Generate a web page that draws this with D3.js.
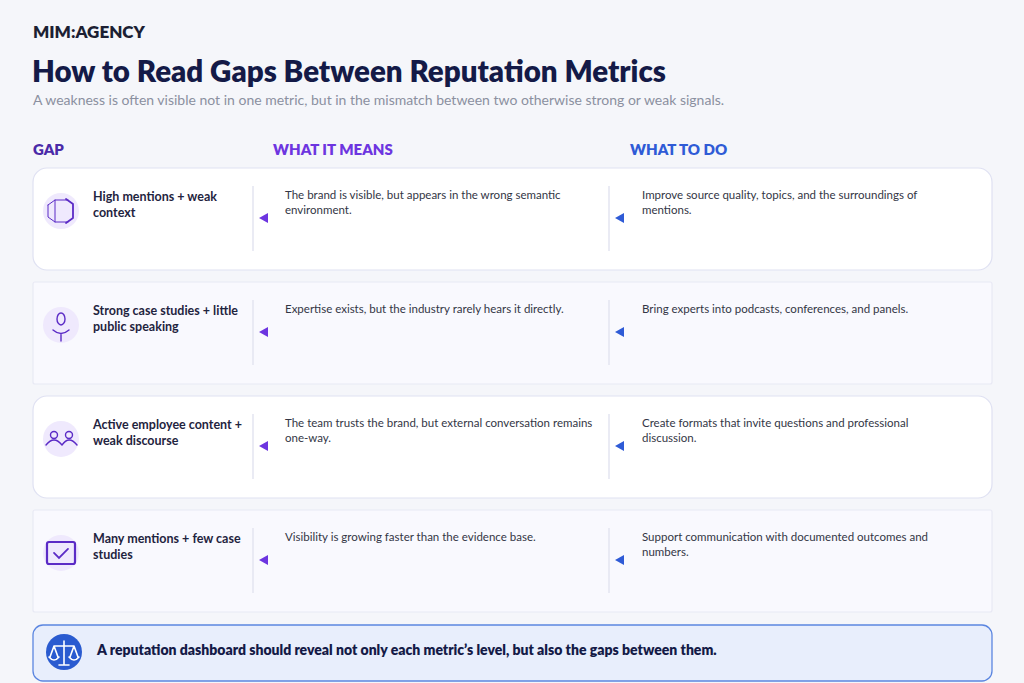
<!DOCTYPE html>
<html><head><meta charset="utf-8">
<script src="https://cdn.jsdelivr.net/npm/d3@7"></script>
<style>body{margin:0;background:#f5f6fa}text{font-family:Lato,"Open Sans",sans-serif}</style>
</head><body><svg id="chart"></svg>
<script>
// Data
var gaps = [["High mentions + weak", "context"], ["Strong case studies + little", "public speaking"], ["Active employee content +", "weak discourse"], ["Many mentions + few case", "studies"]];
var meanings = [["The brand is visible, but appears in the wrong semantic", "environment."], ["Expertise exists, but the industry rarely hears it directly."], ["The team trusts the brand, but external conversation remains", "one-way."], ["Visibility is growing faster than the evidence base."]];
var actions = [["Improve source quality, topics, and the surroundings of", "mentions."], ["Bring experts into podcasts, conferences, and panels."], ["Create formats that invite questions and professional", "discussion."], ["Support communication with documented outcomes and", "numbers."]];
var icons = ["cube", "mic", "people", "check"];
var headers = ["GAP", "WHAT IT MEANS", "WHAT TO DO"];

var W = 1024, H = 683;
var svg = d3.select("#chart").attr("width", W).attr("height", H);
svg.append("rect").attr("width", W).attr("height", H).attr("fill", "#f5f6fa");

svg.append("text").attr("x", 33).attr("y", 38).attr("font-size", 17).attr("font-weight", 800).attr("fill", "#1c1f33").text("MIM:AGENCY");
svg.append("text").attr("x", 32).attr("y", 82).attr("font-size", 29.5).attr("font-weight", 800).attr("fill", "#141a47").text("How to Read Gaps Between Reputation Metrics");
svg.append("text").attr("x", 33).attr("y", 105).attr("font-size", 14).attr("fill", "#8b90a0")
  .text("A weakness is often visible not in one metric, but in the mismatch between two otherwise strong or weak signals.");

var colX = d3.scaleOrdinal().domain(headers).range([33, 273, 630]);
var colC = d3.scaleOrdinal().domain(headers).range(["#4a2aa8", "#6d35e0", "#2f5bd6"]);
svg.selectAll(".hdr").data(headers).enter().append("text")
  .attr("x", d => colX(d)).attr("y", 155).attr("font-size", 15).attr("font-weight", 800)
  .attr("fill", d => colC(d)).text(d => d);

var y = d3.scaleBand().domain(d3.range(gaps.length)).range([168, 612]).paddingInner(0.105).paddingOuter(0);

var rows = svg.selectAll(".row").data(gaps).enter().append("g")
  .attr("transform", (d, i) => `translate(0,${y(i)})`);
var bh = y.bandwidth();

rows.append("rect").attr("x", 33).attr("y", 0).attr("width", 959).attr("height", bh)
  .attr("rx", (d, i) => i % 2 ? 2 : 14)
  .attr("fill", (d, i) => i % 2 ? "#f9f9fe" : "#ffffff")
  .attr("stroke", (d, i) => i % 2 ? "#e8e9f4" : "#dfe1f2").attr("stroke-width", 1.2);

rows.append("circle").attr("cx", 61).attr("cy", 43).attr("r", 18).attr("fill", "#efe9fd");

function lines(g, arr, x, y0, lh, size, weight, fill) {
  var t = g.append("text").attr("font-size", size).attr("font-weight", weight).attr("fill", fill);
  arr.forEach((s, k) => t.append("tspan").attr("x", x).attr("y", y0 + k * lh).text(s));
}
rows.each(function(d, i) {
  var g = d3.select(this);
  lines(g, d, 93, 33, 16, 12.5, 700, "#1f2440");
  lines(g, meanings[i], 285, 31, 15, 11.5, 400, "#333645");
  lines(g, actions[i], 642, 31, 15, 11.5, 400, "#333645");
  [[253, "#6d35e0"], [609, "#2f5bd6"]].forEach(function(p) {
    g.append("line").attr("x1", p[0]).attr("x2", p[0]).attr("y1", 18).attr("y2", 83).attr("stroke", "#e3e4f0").attr("stroke-width", 1.5);
    g.append("path").attr("d", `M${p[0] + 6},50 L${p[0] + 15},45 L${p[0] + 15},55 Z`).attr("fill", p[1]);
  });
  var ic = g.append("g").attr("transform", "translate(61,43)").attr("fill", "none").attr("stroke", "#5b2bc6").attr("stroke-width", 1.4).attr("stroke-linecap", "round");
  var k = icons[i];
  if (k === "cube") {
    ic.append("path").attr("d", "M-13,-6 L-6,-11 L7,-11 M-13,-6 L-13,6 L-6,11 L7,11 M-6,-11 L-6,11").attr("stroke-width", 1);
    ic.append("path").attr("d", "M5,-12 L12,-7 M5,12 L12,7 M12,-7 L12,7").attr("stroke-width", 1.8);
  } else if (k === "mic") {
    ic.append("ellipse").attr("cx", 0).attr("cy", -6).attr("rx", 4).attr("ry", 6);
    ic.append("path").attr("d", "M-8,5 Q0,12 8,5 M0,8.5 L0,16");
  } else if (k === "people") {
    ic.append("circle").attr("cx", -7).attr("cy", -4).attr("r", 3.5);
    ic.append("circle").attr("cx", 8).attr("cy", -4).attr("r", 3.5);
    ic.append("path").attr("d", "M-15,6 Q-7,-4 1,6 M1,6 Q8,-4 16,6");
  } else {
    ic.append("rect").attr("x", -14).attr("y", -11).attr("width", 28).attr("height", 22).attr("rx", 2).attr("stroke-width", 2.2);
    ic.append("path").attr("d", "M-7,0 L-2,5 L7,-4").attr("stroke-width", 1.8);
  }
});

// footer
var f = svg.append("g");
f.append("rect").attr("x", 33).attr("y", 625).attr("width", 959).attr("height", 56).attr("rx", 10)
  .attr("fill", "#e8eefc").attr("stroke", "#5b86e0").attr("stroke-width", 1.3);
f.append("circle").attr("cx", 64).attr("cy", 652).attr("r", 18).attr("fill", "#2a5bd0");
var sc = f.append("g").attr("transform", "translate(64,652)").attr("fill", "none").attr("stroke", "#fff").attr("stroke-width", 1.6).attr("stroke-linecap", "round");
sc.append("path").attr("d", "M0,-11 L0,13 M-10,-6 L10,-6 M-10,-6 L-14,5 M-10,-6 L-6,5 M10,-6 L6,5 M10,-6 L14,5 M-15,5 Q-10,11 -5,5 M5,5 Q10,11 15,5 M-5,13 L5,13");
f.append("text").attr("x", 97).attr("y", 655).attr("font-size", 14).attr("font-weight", 800).attr("fill", "#141a47")
  .text("A reputation dashboard should reveal not only each metric’s level, but also the gaps between them.");
</script></body></html>
